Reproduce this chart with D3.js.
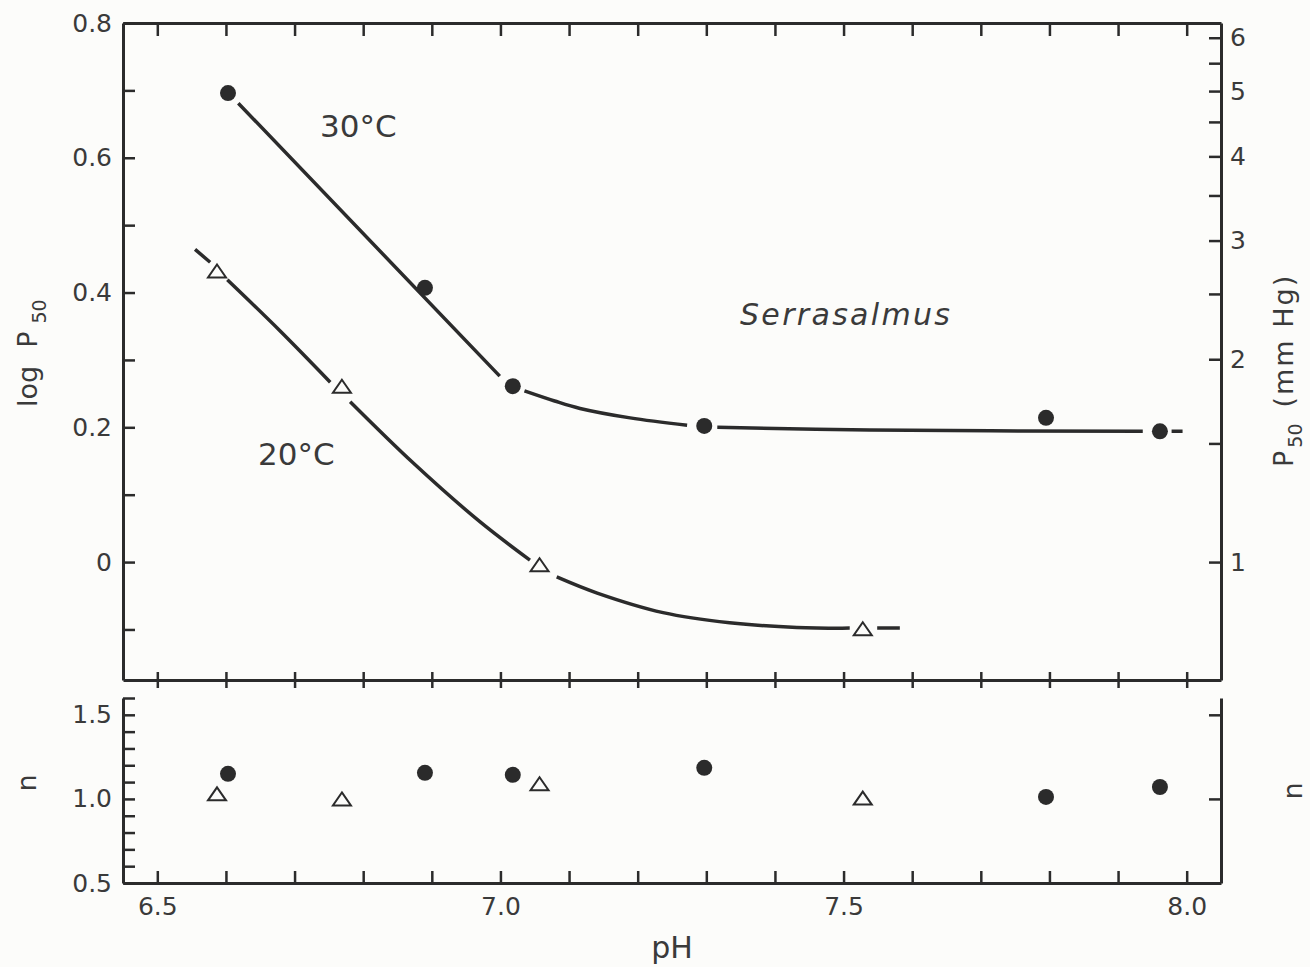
<!DOCTYPE html>
<html>
<head>
<meta charset="utf-8">
<script src="https://cdn.jsdelivr.net/npm/d3@7"></script>
<style>
  body { margin: 0; background: #fcfcfa; }
  svg { display: block; }
  text { font-family: "DejaVu Sans", sans-serif; fill: #3a3a3a; }
</style>
</head>
<body>
<div id="chart"></div>
<script>
// measured points (pH vs log P50, and Hill n)
const ph30 = [6.603, 6.890, 7.018, 7.297, 7.795, 7.961];
const logP30 = [0.696, 0.407, 0.261, 0.202, 0.214, 0.194];
const n30 = [1.149, 1.155, 1.143, 1.185, 1.012, 1.071];

const ph20 = [6.587, 6.769, 7.057, 7.528];
const logP20 = [0.432, 0.261, -0.004, -0.099];
const n20 = [1.03, 1.0, 1.09, 1.005];

// hand-fitted curves as drawn, NaN = break in the line around a symbol
const fit30Ph = [6.618, 6.999, NaN, 7.035, 7.079, 7.116, 7.189, 7.272, NaN, 7.316, 7.538, 7.936, NaN, 7.978, 7.994];
const fit30Log = [0.681, 0.276, NaN, 0.254, 0.239, 0.228, 0.214, 0.203, NaN, 0.200, 0.196, 0.194, NaN, 0.194, 0.194];
const fit20Ph = [6.555, 6.577, NaN, 6.602, 6.679, 6.752, NaN, 6.781, 6.873, 6.970, 7.043, NaN, 7.082, 7.141, 7.237, 7.334, 7.432, 7.509, NaN, 7.549, 7.582];
const fit20Log = [0.464, 0.445, NaN, 0.419, 0.343, 0.267, NaN, 0.238, 0.147, 0.060, 0.003, NaN, -0.022, -0.046, -0.075, -0.090, -0.097, -0.098, NaN, -0.098, -0.098];

// ticks
const phTicks = d3.range(65, 81).map(d => d / 10);
const phLabels = [6.5, 7.0, 7.5, 8.0];
const logTicks = d3.range(-1, 9).map(d => d / 10);
const logLabels = [0, 0.2, 0.4, 0.6, 0.8];
const p50Ticks = [1, 1.5, 2, 2.5, 3, 3.5, 4, 4.5, 5, 5.5, 6];
const p50Labels = [1, 2, 3, 4, 5, 6];
const nTicks = d3.range(5, 17).map(d => d / 10);
const nLabels = [0.5, 1.0, 1.5];
const nRightTicks = [1.0, 1.5];

const ink = '#2b2b2b';
const has = (arr, d) => arr.some(v => Math.abs(v - d) < 1e-9);

const svg = d3.select('#chart').append('svg')
    .attr('width', 1310)
    .attr('height', 967);

const x = d3.scaleLinear().domain([6.45, 8.05]).range([123, 1221]);
const yTop = d3.scaleLinear().domain([-0.175, 0.8]).range([680, 23]);
const yP = d3.scaleLog().domain([Math.pow(10, -0.175), Math.pow(10, 0.8)]).range([680, 23]);
const yN = d3.scaleLinear().domain([0.5, 1.6]).range([883, 698]);

function styleAxis(g) {
    g.attr('font-family', null).attr('font-size', 25);
    g.select('.domain').attr('stroke', ink).attr('stroke-width', 3);
    g.selectAll('.tick line').attr('stroke', ink).attr('stroke-width', 2.5);
    g.selectAll('.tick text').attr('fill', '#3a3a3a');
}

// top panel frame
svg.append('g')
    .attr('transform', 'translate(0,23)')
    .call(d3.axisTop(x).tickValues(phTicks).tickSize(-13).tickSizeOuter(0).tickFormat(''))
    .call(styleAxis);

const midAxis = svg.append('g')
    .attr('transform', 'translate(0,680)')
    .call(d3.axisBottom(x).tickValues(phTicks).tickSize(8).tickSizeOuter(0).tickFormat(''))
    .call(styleAxis);
midAxis.selectAll('.tick line').attr('y1', -8); // ticks cross the line

svg.append('g')
    .attr('transform', 'translate(123,0)')
    .call(d3.axisLeft(yTop).tickValues(logTicks).tickSize(-12).tickSizeOuter(0).tickPadding(11)
        .tickFormat(d => has(logLabels, d) ? (d === 0 ? '0' : d3.format('.1f')(d)) : ''))
    .call(styleAxis);

svg.append('g')
    .attr('transform', 'translate(1221,0)')
    .call(d3.axisRight(yP).tickValues(p50Ticks).tickSize(-12).tickSizeOuter(0).tickPadding(9)
        .tickFormat(d => has(p50Labels, d) ? d : ''))
    .call(styleAxis);

// n panel frame
svg.append('g')
    .attr('transform', 'translate(0,883)')
    .call(d3.axisBottom(x).tickValues(phTicks).tickSize(-12).tickSizeOuter(0).tickPadding(14)
        .tickFormat(d => has(phLabels, d) ? d3.format('.1f')(d) : ''))
    .call(styleAxis);

svg.append('g')
    .attr('transform', 'translate(123,0)')
    .call(d3.axisLeft(yN).tickValues(nTicks).tickSize(-12).tickSizeOuter(0).tickPadding(11)
        .tickFormat(d => has(nLabels, d) ? d3.format('.1f')(d) : ''))
    .call(styleAxis);

svg.append('g')
    .attr('transform', 'translate(1221,0)')
    .call(d3.axisRight(yN).tickValues(nRightTicks).tickSize(-12).tickSizeOuter(0).tickFormat(''))
    .call(styleAxis);

// fitted curves
const line = d3.line()
    .defined(d => !isNaN(d[0]))
    .x(d => x(d[0]))
    .y(d => yTop(d[1]))
    .curve(d3.curveCatmullRom.alpha(0.5));

[[fit30Ph, fit30Log], [fit20Ph, fit20Log]].forEach(([px, py]) => {
    svg.append('path')
        .datum(px.map((p, i) => [p, py[i]]))
        .attr('d', line)
        .attr('fill', 'none')
        .attr('stroke', ink)
        .attr('stroke-width', 3.5);
});

// symbols
const tri = 'M0,-6.5L9,6.5L-9,6.5Z';

function dots(phs, vals, yScale) {
    svg.append('g').selectAll('circle')
        .data(phs.map((p, i) => [p, vals[i]]))
        .join('circle')
        .attr('cx', d => x(d[0]))
        .attr('cy', d => yScale(d[1]))
        .attr('r', 8)
        .attr('fill', ink);
}

function triangles(phs, vals, yScale) {
    svg.append('g').selectAll('path')
        .data(phs.map((p, i) => [p, vals[i]]))
        .join('path')
        .attr('transform', d => `translate(${x(d[0])},${yScale(d[1])})`)
        .attr('d', tri)
        .attr('fill', '#fcfcfa')
        .attr('stroke', ink)
        .attr('stroke-width', 2);
}

dots(ph30, logP30, yTop);
triangles(ph20, logP20, yTop);
dots(ph30, n30, yN);
triangles(ph20, n20, yN);

// annotations
svg.append('text').attr('x', 320).attr('y', 137).style('font-size', '31px').text('30°C');
svg.append('text').attr('x', 258).attr('y', 465).style('font-size', '31px').text('20°C');
svg.append('text').attr('x', 740).attr('y', 325)
    .style('font-size', '30px').style('font-style', 'italic')
    .attr('textLength', 210).attr('lengthAdjust', 'spacing')
    .text('Serrasalmus');

// axis titles
svg.append('text').attr('x', 672).attr('y', 958)
    .attr('text-anchor', 'middle').style('font-size', '30px').text('pH');

const leftTitle = svg.append('text')
    .attr('transform', 'translate(37,407) rotate(-90)')
    .style('font-size', '27px');
leftTitle.append('tspan').text('log');
leftTitle.append('tspan').attr('dx', 18).text('P');
leftTitle.append('tspan').attr('dx', 8).attr('dy', 9).style('font-size', '19px').text('50');

const rightTitle = svg.append('text')
    .attr('transform', 'translate(1293,467) rotate(-90)')
    .style('font-size', '27px');
rightTitle.append('tspan').text('P');
rightTitle.append('tspan').attr('dx', 3).attr('dy', 9).style('font-size', '19px').text('50');
rightTitle.append('tspan').attr('dx', 16).attr('dy', -9).style('letter-spacing', '2px').text('(mm Hg)');

svg.append('text').attr('transform', 'translate(36,783) rotate(-90)')
    .attr('text-anchor', 'middle').style('font-size', '27px').text('n');
svg.append('text').attr('transform', 'translate(1302,791) rotate(-90)')
    .attr('text-anchor', 'middle').style('font-size', '27px').text('n');
</script>
</body>
</html>
